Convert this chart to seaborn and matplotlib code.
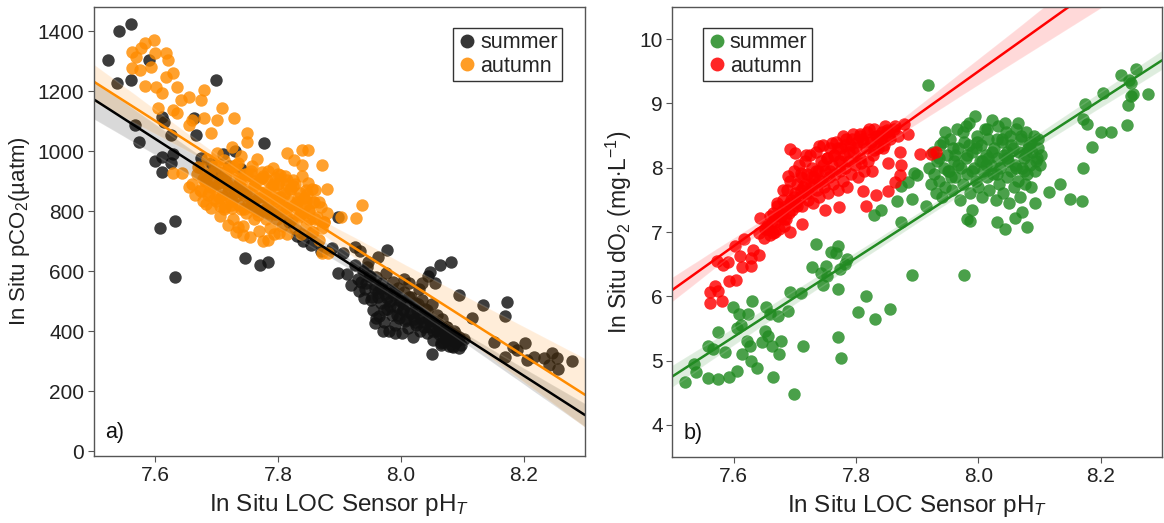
import matplotlib
matplotlib.use("Agg")
import matplotlib.pyplot as plt
import seaborn as sns
import pandas as pd
from matplotlib.lines import Line2D

# ---------------- data: panel a) pCO2 vs pH ----------------
summer_ph_a = [7.522, 7.540, 7.560, 7.538, 7.560, 7.590, 7.699, 7.566, 7.574, 7.611, 7.614, 7.625,
               7.600, 7.610, 7.611, 7.629, 7.626, 7.666, 7.663, 7.675, 7.777, 7.608, 7.632, 7.632,
               7.746, 7.771, 7.783, 7.897, 7.831, 7.840, 7.854, 7.817, 7.869, 7.888, 7.897, 7.905,
               7.925, 7.977, 7.962, 7.934, 8.048, 8.063, 8.082, 8.094, 8.051, 8.085, 8.134, 8.173,
               8.170, 8.116, 8.152, 8.183, 8.170, 8.202, 8.205, 8.217, 8.233, 8.246, 8.254, 8.242,
               8.256, 8.279, 8.189,
               7.690, 7.710, 7.720, 7.740, 7.700, 7.730,
               7.912, 7.918, 7.925, 7.930, 7.932, 7.938, 7.940, 7.943, 7.947, 7.950, 7.952, 7.955,
               7.958, 7.960, 7.962, 7.965, 7.967, 7.970, 7.972, 7.974, 7.977, 7.979, 7.980, 7.982,
               7.985, 7.987, 7.989, 7.991, 7.993, 7.995, 7.997, 7.999, 8.001, 8.003, 8.005, 8.007,
               8.009, 8.011, 8.013, 8.015, 8.017, 8.019, 8.021, 8.023, 8.025, 8.027, 8.029, 8.031,
               8.033, 8.035, 8.037, 8.040, 8.042, 8.044, 8.046, 8.048, 8.050, 8.052, 8.054, 8.056,
               8.058, 8.060, 8.062, 8.065, 8.067, 8.070, 8.072, 8.075, 8.078, 8.080, 8.083, 8.086,
               8.090, 8.094, 8.098, 8.102, 7.971, 7.957,
               7.935, 7.942, 7.948, 7.953, 7.958, 7.963, 7.968, 7.973, 7.978, 7.983, 7.988, 7.993,
               7.998, 8.003, 8.008, 8.013, 8.018, 8.023, 8.028, 8.033, 8.038, 8.043, 8.048, 8.053,
               8.058, 8.063, 8.068, 8.073, 8.078, 8.083, 8.088, 8.093, 7.945, 7.975, 8.005, 8.035,
               8.065, 8.095, 7.960, 7.990]
summer_pco2 = [1303, 1400, 1422, 1228, 1237, 1303, 1236, 1087, 1032, 1113, 1098, 1054,
               967, 982, 932, 991, 960, 1054, 1109, 976, 1028, 745, 768, 580,
               643, 621, 632, 782, 716, 701, 688, 765, 666, 677, 593, 660,
               682, 671, 649, 666, 599, 621, 632, 521, 324, 349, 488, 499,
               451, 444, 366, 349, 316, 361, 305, 316, 311, 327, 311, 288,
               274, 300, 338,
               960, 990, 950, 940, 930, 1000,
               590, 555, 620, 575, 535, 600, 510, 560, 630, 585, 505, 470,
               540, 580, 515, 450, 495, 560, 430, 525, 475, 540, 400, 500,
               455, 565, 520, 420, 480, 545, 445, 505, 395, 470, 530, 435,
               490, 410, 560, 460, 515, 380, 440, 495, 420, 470, 540, 400,
               450, 505, 430, 475, 395, 585, 445, 415, 490, 370, 435, 560,
               400, 425, 390, 360, 440, 405, 375, 415, 350, 390, 370, 400,
               365, 380, 355, 375, 400, 428,
               565, 540, 585, 515, 555, 530, 545, 470, 510, 485, 530, 455,
               500, 475, 440, 515, 460, 430, 490, 445, 415, 470, 435, 400,
               455, 400, 365, 415, 385, 350, 395, 370, 615, 595, 575, 560,
               355, 345, 445, 395]

autumn_ph_a = [7.562, 7.568, 7.583, 7.598, 7.577, 7.562, 7.575, 7.592, 7.600, 7.617, 7.620, 7.583,
               7.601, 7.617, 7.629, 7.611, 7.635, 7.679, 7.654, 7.605, 7.629, 7.641, 7.675, 7.709,
               7.700, 7.728, 7.660, 7.679, 7.635, 7.654, 7.749, 7.691, 7.629, 7.644, 7.839, 7.848,
               7.815, 7.826, 7.872, 7.839, 7.845, 7.880, 7.866, 7.936, 7.927, 7.903, 7.875, 7.872,
               7.882, 7.857, 7.654, 7.734, 7.743, 7.783, 7.802,
               7.660, 7.664, 7.668, 7.672, 7.675, 7.678, 7.681, 7.684, 7.686, 7.689, 7.691, 7.694,
               7.696, 7.699, 7.701, 7.703, 7.706, 7.708, 7.710, 7.712, 7.714, 7.716, 7.718, 7.720,
               7.722, 7.724, 7.726, 7.728, 7.730, 7.732, 7.734, 7.736, 7.738, 7.740, 7.742, 7.744,
               7.746, 7.748, 7.750, 7.752, 7.754, 7.756, 7.758, 7.760, 7.762, 7.764, 7.766, 7.768,
               7.770, 7.772, 7.774, 7.776, 7.778, 7.780, 7.782, 7.784, 7.786, 7.788, 7.790, 7.792,
               7.794, 7.796, 7.798, 7.800, 7.803, 7.806, 7.809, 7.812, 7.815, 7.818, 7.821, 7.824,
               7.827, 7.830, 7.834, 7.838, 7.842, 7.846, 7.850, 7.855, 7.860, 7.866, 7.872,
               7.682, 7.688, 7.695, 7.700, 7.707, 7.713, 7.719, 7.725, 7.731, 7.737, 7.743, 7.749,
               7.755, 7.761, 7.767, 7.773, 7.779, 7.785, 7.791, 7.797, 7.803, 7.809, 7.815, 7.821,
               7.827, 7.833, 7.839, 7.845, 7.851, 7.857, 7.863, 7.869, 7.875, 7.880, 7.860, 7.848,
               7.836, 7.824, 7.812, 7.800,
               7.670, 7.674, 7.678, 7.683, 7.687, 7.691, 7.695, 7.699, 7.703, 7.707, 7.711, 7.715,
               7.719, 7.723, 7.727, 7.731, 7.735, 7.739, 7.743, 7.747, 7.751, 7.755, 7.759, 7.763,
               7.767, 7.771, 7.775, 7.779, 7.783, 7.787, 7.791, 7.795, 7.799, 7.803, 7.807, 7.811,
               7.815, 7.819, 7.823, 7.827, 7.831, 7.835, 7.839, 7.843, 7.847, 7.851, 7.855, 7.859,
               7.705, 7.715, 7.725, 7.735, 7.745, 7.755, 7.765, 7.775, 7.785, 7.795, 7.805, 7.815]
autumn_pco2 = [1331, 1315, 1359, 1370, 1343, 1276, 1270, 1281, 1326, 1326, 1303, 1217,
               1215, 1248, 1259, 1193, 1215, 1204, 1181, 1143, 1137, 1170, 1170, 1143,
               1104, 1109, 1104, 1109, 1126, 1087, 1059, 1059, 926, 926, 1004, 1004,
               993, 971, 954, 954, 871, 874, 832, 821, 777, 782, 765, 660,
               660, 732, 882, 749, 721, 704, 727,
               890, 855, 925, 870, 945, 835, 900, 975, 855, 920, 810, 880,
               950, 835, 995, 895, 785, 855, 930, 970, 815, 890, 755, 940,
               845, 1015, 775, 905, 865, 730, 960, 820, 885, 985, 750, 855,
               925, 795, 1030, 875, 715, 835, 950, 775, 900, 845, 975, 735,
               865, 805, 930, 700, 850, 775, 905, 825, 745, 880, 800, 945,
               725, 845, 775, 890, 815, 750, 860, 795, 725, 835, 770, 885,
               745, 810, 780, 725, 845, 755, 800, 730, 775, 705, 745,
               905, 865, 930, 890, 845, 915, 880, 835, 955, 900, 860, 925,
               815, 885, 845, 910, 865, 800, 890, 835, 920, 855, 810, 875,
               825, 845, 795, 835, 805, 830, 780, 815, 765, 795, 870, 895,
               860, 905, 890, 925,
               948, 867, 906, 824, 923, 882, 840, 949, 848, 907, 806, 924,
               863, 822, 951, 850, 888, 807, 906, 865, 824, 933, 831, 890,
               789, 908, 847, 806, 934, 833, 872, 791, 890, 849, 807, 916,
               815, 874, 773, 892, 830, 789, 918, 817, 856, 774, 873, 832,
               817, 934, 811, 928, 806, 923, 800, 917, 794, 911, 788, 905]

# ---------------- data: panel b) dO2 vs pH ----------------
summer_ph_b = [7.520, 7.536, 7.539, 7.558, 7.575, 7.592, 7.606, 7.558, 7.566, 7.574, 7.586, 7.599,
               7.608, 7.605, 7.612, 7.613, 7.622, 7.624, 7.626, 7.630, 7.629, 7.638, 7.647, 7.652,
               7.653, 7.656, 7.659, 7.662, 7.665, 7.672, 7.674, 7.677, 7.689, 7.692, 7.698, 7.710,
               7.713, 7.728, 7.735, 7.743, 7.746, 7.751, 7.753, 7.759, 7.768, 7.771, 7.770, 7.773,
               7.782, 7.785, 7.770, 7.775, 7.803, 7.817, 7.831, 7.855, 7.829, 7.841, 7.867, 7.874,
               7.874, 7.885, 7.892, 7.892, 7.895, 7.900, 7.915, 7.917, 7.976,
               8.092, 8.115, 8.134, 8.150, 8.170, 8.171, 8.171, 8.177, 8.185, 8.174, 8.200, 8.216,
               8.204, 8.233, 8.242, 8.244, 8.249, 8.252, 8.257, 8.250, 8.277, 8.246,
               8.044, 8.030, 8.060, 8.079, 8.071, 7.981, 7.987, 7.989,
               7.920, 7.923, 7.925, 7.928, 7.930, 7.933, 7.936, 7.938, 7.941, 7.944, 7.946, 7.949,
               7.952, 7.954, 7.957, 7.960, 7.962, 7.965, 7.967, 7.970, 7.972, 7.975, 7.977, 7.980,
               7.982, 7.985, 7.987, 7.990, 7.992, 7.994, 7.996, 7.998, 8.000, 8.002, 8.004, 8.006,
               8.008, 8.010, 8.012, 8.014, 8.016, 8.018, 8.020, 8.022, 8.024, 8.026, 8.028, 8.030,
               8.032, 8.034, 8.036, 8.038, 8.040, 8.042, 8.044, 8.046, 8.048, 8.050, 8.052, 8.054,
               8.056, 8.058, 8.060, 8.062, 8.064, 8.066, 8.068, 8.070, 8.072, 8.074, 8.076, 8.078,
               8.080, 8.082, 8.084, 8.086, 8.088, 8.090, 8.092, 8.095, 8.098, 8.100, 8.102,
               7.935, 7.942, 7.950, 7.958, 7.966, 7.974, 7.982, 7.990, 7.998, 8.006, 8.014, 8.022,
               8.030, 8.038, 8.046, 8.054, 8.062, 8.070, 8.078, 8.086, 8.094, 7.945, 7.962, 7.979,
               7.996, 8.013, 8.030, 8.047, 8.064, 8.081, 8.098, 7.955, 7.985, 8.015, 8.045, 8.075]
summer_do2 = [4.66, 4.95, 4.82, 4.73, 4.71, 4.75, 4.83, 5.23, 5.18, 5.44, 5.14, 5.83,
              5.72, 5.51, 5.55, 5.10, 5.31, 5.72, 5.22, 5.93, 5.00, 4.88, 5.29, 5.46,
              5.83, 5.39, 5.72, 5.23, 4.74, 5.70, 5.10, 5.31, 5.77, 6.06, 4.48, 6.05,
              5.23, 6.46, 6.82, 6.37, 6.17, 6.47, 6.32, 6.69, 6.68, 6.78, 6.11, 6.42,
              6.50, 6.58, 5.37, 5.04, 5.75, 6.00, 5.64, 5.80, 7.26, 7.35, 7.48, 7.15,
              7.71, 7.78, 7.51, 6.33, 7.92, 7.88, 7.40, 9.29, 6.33,
              7.45, 7.62, 7.74, 7.52, 7.49, 8.00, 8.76, 8.68, 8.32, 8.99, 8.56, 8.56,
              9.17, 9.45, 8.67, 8.98, 9.32, 9.14, 9.54, 9.11, 9.15, 9.36,
              7.05, 7.15, 7.22, 7.08, 7.31, 7.20, 7.17, 7.35,
              8.00, 7.75, 8.25, 7.90, 7.60, 8.10, 7.80, 8.35, 7.55, 8.00, 7.70, 8.20,
              7.95, 8.45, 7.65, 8.10, 7.85, 8.60, 8.30, 7.50, 8.00, 7.75, 8.40, 8.15,
              7.90, 8.70, 7.60, 8.25, 8.00, 8.80, 7.80, 8.50, 7.70, 8.10, 8.35, 7.55,
              7.95, 8.60, 8.20, 7.85, 8.45, 7.65, 8.05, 8.75, 7.90, 8.30, 7.50, 8.15,
              8.65, 7.75, 8.00, 8.40, 7.60, 8.20, 8.70, 7.85, 8.10, 7.45, 8.50, 7.95,
              8.30, 7.70, 8.05, 8.60, 7.80, 8.25, 7.55, 8.45, 8.00, 8.15, 7.75, 8.55,
              7.90, 8.35, 8.05, 7.70, 8.25, 8.50, 7.95, 8.15, 8.30, 8.05, 8.20,
              8.15, 8.40, 7.95, 8.30, 8.05, 8.55, 8.20, 7.95, 8.40, 8.10, 8.60, 8.25,
              7.90, 8.45, 8.15, 8.35, 8.00, 8.50, 8.20, 8.40, 8.10, 8.55, 8.20, 8.65,
              8.30, 8.05, 8.45, 8.25, 8.70, 8.30, 8.45, 7.85, 8.35, 8.15, 8.55, 7.95]

autumn_ph_b = [7.562, 7.561, 7.581, 7.569, 7.575, 7.572, 7.582, 7.590, 7.593, 7.604, 7.602, 7.611,
               7.614, 7.617, 7.628, 7.629, 7.632, 7.643, 7.641, 7.642, 7.651, 7.659, 7.665, 7.671,
               7.677, 7.683, 7.692, 7.692, 7.689, 7.681, 7.701, 7.710, 7.711, 7.719, 7.728, 7.740,
               7.749, 7.760, 7.772, 7.778, 7.795, 7.807, 7.821, 7.816, 7.833, 7.839, 7.851, 7.863,
               7.879, 7.885, 7.872, 7.874, 7.872, 7.864, 7.853, 7.853, 7.844, 7.829, 7.826, 7.812,
               7.808, 7.904, 7.922, 7.931,
               7.655, 7.660, 7.664, 7.668, 7.671, 7.674, 7.677, 7.680, 7.683, 7.686, 7.688, 7.690,
               7.692, 7.694, 7.696, 7.698, 7.700, 7.702, 7.704, 7.706, 7.708, 7.710, 7.712, 7.714,
               7.716, 7.718, 7.720, 7.722, 7.724, 7.726, 7.728, 7.730, 7.732, 7.734, 7.736, 7.738,
               7.740, 7.742, 7.744, 7.746, 7.748, 7.750, 7.752, 7.754, 7.756, 7.758, 7.760, 7.762,
               7.764, 7.766, 7.768, 7.770, 7.772, 7.774, 7.776, 7.778, 7.780, 7.782, 7.784, 7.786,
               7.788, 7.790, 7.792, 7.795, 7.798, 7.801, 7.804, 7.807, 7.810, 7.813, 7.816, 7.820,
               7.824, 7.828, 7.832, 7.836, 7.840, 7.845, 7.850, 7.856, 7.862, 7.868,
               7.650, 7.656, 7.662, 7.668, 7.674, 7.680, 7.686, 7.692, 7.698, 7.704, 7.710, 7.716,
               7.722, 7.728, 7.734, 7.740, 7.746, 7.752, 7.758, 7.764, 7.770, 7.776, 7.782, 7.788,
               7.794, 7.800, 7.806, 7.812, 7.818, 7.824, 7.830, 7.836, 7.842, 7.848, 7.854]
autumn_do2 = [6.06, 5.89, 5.93, 6.16, 6.08, 6.55, 6.48, 6.53, 6.24, 6.26, 6.79, 6.63,
              6.45, 6.89, 6.60, 6.47, 6.72, 7.22, 6.99, 6.64, 7.04, 7.25, 6.99, 7.45,
              7.25, 7.09, 7.00, 8.29, 7.87, 7.66, 8.23, 7.92, 7.13, 8.20, 7.70, 8.34,
              7.35, 8.39, 7.39, 8.49, 8.52, 8.52, 8.60, 7.40, 7.58, 8.50, 8.59, 8.65,
              8.68, 8.52, 8.24, 8.05, 7.89, 7.78, 7.64, 8.08, 8.31, 8.28, 7.95, 7.64,
              8.08, 8.22, 8.22, 8.24,
              7.10, 6.95, 7.30, 7.15, 7.40, 7.05, 7.25, 7.50, 7.20, 7.40, 7.65, 7.30,
              7.80, 7.50, 7.35, 7.95, 7.60, 7.45, 7.75, 8.05, 7.55, 7.85, 7.40, 7.70,
              8.10, 7.60, 7.90, 7.50, 8.20, 7.75, 8.00, 7.45, 7.85, 8.25, 7.65, 7.95,
              7.55, 8.10, 7.80, 8.35, 7.70, 7.95, 8.15, 7.60, 7.85, 8.30, 8.05, 7.75,
              8.20, 7.90, 8.40, 7.65, 8.10, 7.95, 8.30, 7.80, 8.20, 8.00, 8.45, 7.70,
              8.10, 8.35, 7.90, 8.25, 8.05, 8.40, 7.85, 8.15, 8.45, 7.95, 8.30, 8.10,
              8.40, 8.20, 8.50, 8.30, 8.45, 8.35, 8.55, 8.45, 8.60, 8.50,
              6.90, 7.05, 7.15, 7.00, 7.25, 7.35, 7.20, 7.45, 7.55, 7.40, 7.65, 7.75,
              7.60, 7.85, 7.95, 7.80, 8.05, 8.15, 7.95, 8.20, 8.30, 8.10, 8.35, 8.25,
              8.45, 8.30, 8.50, 8.40, 8.55, 8.45, 8.60, 8.50, 8.55, 8.65, 8.50]

season_labels = ["summer", "autumn"]
x_ticks = [7.6, 7.8, 8.0, 8.2]
y_ticks_a = [0, 200, 400, 600, 800, 1000, 1200, 1400]
y_ticks_b = [4, 5, 6, 7, 8, 9, 10]

# ---------------- style ----------------
sns.set_theme(style="white")
plt.rcParams["font.family"] = ["Liberation Sans", "DejaVu Sans"]
plt.rcParams["mathtext.fontset"] = "custom"
plt.rcParams["mathtext.rm"] = "Liberation Sans"
plt.rcParams["mathtext.it"] = "Liberation Sans:italic"

fig = plt.figure(figsize=(11.64, 5.23), dpi=100)
ax1 = fig.add_axes([0.0808, 0.1281, 0.4218, 0.8585])
ax2 = fig.add_axes([0.5777, 0.1262, 0.4206, 0.8604])

df_sa = pd.DataFrame({"ph": summer_ph_a, "val": summer_pco2})
df_aa = pd.DataFrame({"ph": autumn_ph_a, "val": autumn_pco2})
df_sb = pd.DataFrame({"ph": summer_ph_b, "val": summer_do2})
df_ab = pd.DataFrame({"ph": autumn_ph_b, "val": autumn_do2})

PT = dict(s=80, alpha=0.82, linewidth=0, legend=False)
LN = dict(scatter=False, truncate=False, ci=95, line_kws=dict(lw=1.8))

def setup(ax, ylim, yticks):
    ax.set_xlim(7.5, 8.3)
    ax.set_ylim(*ylim)
    ax.set_xticks(x_ticks)
    ax.set_xticklabels([f"{t:.1f}" for t in x_ticks])
    ax.set_yticks(yticks)
    for sp in ax.spines.values():
        sp.set_color("#555555")
        sp.set_linewidth(1.0)
    ax.tick_params(axis="both", which="both", direction="out", length=4, width=0.8,
                   color="#555555", labelsize=15, labelcolor="#222222",
                   bottom=True, left=True, pad=3)

setup(ax1, (-15, 1480), y_ticks_a)
setup(ax2, (3.5, 10.5), y_ticks_b)

# panel a
sns.scatterplot(data=df_sa, x="ph", y="val", color="#111111", ax=ax1, **PT)
sns.scatterplot(data=df_aa, x="ph", y="val", color="#FF8C00", ax=ax1, **PT)
sns.regplot(data=df_sa, x="ph", y="val", color="black", ax=ax1, **LN)
sns.regplot(data=df_aa, x="ph", y="val", color="#FF8C00", ax=ax1, **LN)

# panel b
sns.scatterplot(data=df_sb, x="ph", y="val", color="#228B22", ax=ax2, **PT)
sns.scatterplot(data=df_ab, x="ph", y="val", color="#FF0000", ax=ax2, **PT)
sns.regplot(data=df_sb, x="ph", y="val", color="#228B22", ax=ax2, **LN)
sns.regplot(data=df_ab, x="ph", y="val", color="#FF0000", ax=ax2, **LN)

for ax in (ax1, ax2):
    ax.set_xlim(7.5, 8.3)
ax1.set_ylim(-15, 1480)
ax2.set_ylim(3.5, 10.5)

xlabel = r"In Situ LOC Sensor pH$_T$"
ax1.set_xlabel(xlabel, fontsize=17.5, color="#222222", labelpad=5)
ax2.set_xlabel(xlabel, fontsize=17.5, color="#222222", labelpad=5)
ax1.set_ylabel(r"In Situ pCO$_2$(µatm)", fontsize=16, color="#222222", labelpad=4)
ax2.set_ylabel(r"In Situ dO$_2$ (mg$\cdot$L$^{-1}$)", fontsize=16.5, color="#222222", labelpad=4)

ax1.text(0.022, 0.04, "a)", transform=ax1.transAxes, fontsize=15.5, color="#111111")
ax2.text(0.022, 0.04, "b)", transform=ax2.transAxes, fontsize=15.5, color="#111111")

def legend(ax, cols, loc, anchor):
    handles = [Line2D([], [], marker="o", linestyle="", markersize=10, color=c, alpha=0.85,
                      markeredgewidth=0) for c in cols]
    lg = ax.legend(handles, season_labels, loc=loc, bbox_to_anchor=anchor, fontsize=15.5,
                   frameon=True, fancybox=False, edgecolor="#333333", framealpha=1,
                   handletextpad=0.15, borderpad=0.2, labelspacing=0.1, handlelength=0.9,
                   borderaxespad=0)
    lg.get_frame().set_linewidth(1.0)

legend(ax1, ["#111111", "#FF8C00"], "upper right", (0.953, 0.953))
legend(ax2, ["#228B22", "#FF0000"], "upper left", (0.0625, 0.953))

fig.savefig("out.png", dpi=100)
